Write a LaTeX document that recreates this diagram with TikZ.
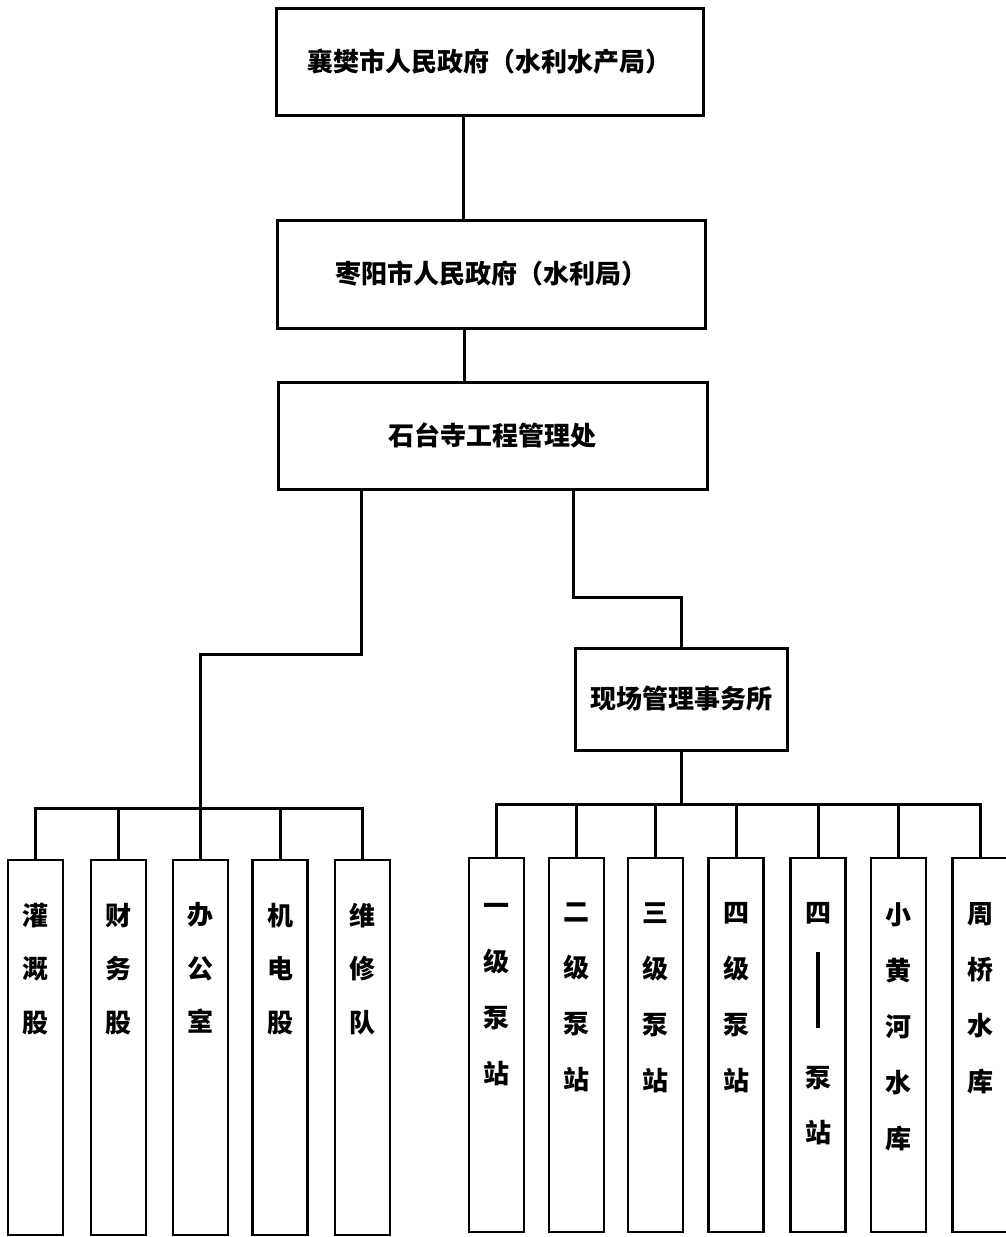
\documentclass[tikz,border=0pt]{standalone}
\usepackage{fontspec}
\newfontfamily\cjk{Noto Sans CJK SC}
\begin{document}
\begin{tikzpicture}[x=1pt,y=-1pt,
  box/.style={draw, line width=3pt, inner sep=0pt,
    font=\cjk\bfseries\fontsize{26pt}{30pt}\selectfont},
  vbox/.style={draw, line width=2.8pt, inner sep=0pt, minimum width=55pt},
  vtext/.style={anchor=north, inner sep=0pt, align=center,
    font=\cjk\bfseries\fontsize{26pt}{#1}\selectfont},
  vtext/.default={53.5pt},
  conn/.style={line width=3pt}]
\useasboundingbox (0,0) rectangle (1005,1237);

% upper hierarchy
\node[box, minimum width=427pt, minimum height=107pt] (gov1) at (489.5,61.5) {襄樊市人民政府（水利水产局）};
\node[box, minimum width=428pt, minimum height=108pt] (gov2) at (491,274) {枣阳市人民政府（水利局）};
\node[box, minimum width=429pt, minimum height=107pt] (mgmt) at (492.5,435.5) {石台寺工程管理处};
\node[box, minimum width=212pt, minimum height=102pt] (site) at (681,699) {现场管理事务所};

% left group boxes
\node[vbox, minimum height=375pt] (l1) at (35.5,1047.5) {};
\node[vbox, minimum height=375pt] (l2) at (118.5,1047.5) {};
\node[vbox, minimum height=375pt] (l3) at (200.5,1047.5) {};
\node[vbox, minimum height=375pt] (l4) at (280,1047.5) {};
\node[vbox, minimum height=375pt] (l5) at (362.5,1047.5) {};
\node[vtext] (l1t) at ([yshift=-44pt]l1.north) {灌\\溉\\股};
\node[vtext] (l2t) at ([yshift=-44pt]l2.north) {财\\务\\股};
\node[vtext] (l3t) at ([yshift=-44pt]l3.north) {办\\公\\室};
\node[vtext] (l4t) at ([yshift=-44pt]l4.north) {机\\电\\股};
\node[vtext] (l5t) at ([yshift=-44pt]l5.north) {维\\修\\队};

% right group boxes
\node[vbox, minimum height=374pt] (r1) at (496.5,1045) {};
\node[vbox, minimum height=374pt] (r2) at (576.5,1045) {};
\node[vbox, minimum height=374pt] (r3) at (655.5,1045) {};
\node[vbox, minimum height=374pt] (r4) at (736,1045) {};
\node[vbox, minimum height=374pt] (r5) at (818,1045) {};
\node[vbox, minimum height=374pt] (r6) at (898.5,1045) {};
\node[vbox, minimum height=374pt] (r7) at (980,1045) {};
\node[vtext=56pt] (r1t) at ([yshift=-46pt]r1.north) {一\\级\\泵\\站};
\node[vtext=56pt] (r2t) at ([yshift=-46pt]r2.north) {二\\级\\泵\\站};
\node[vtext=56pt] (r3t) at ([yshift=-46pt]r3.north) {三\\级\\泵\\站};
\node[vtext=56pt] (r4t) at ([yshift=-46pt]r4.north) {四\\级\\泵\\站};
\node[vtext=55pt] (r5t) at ([yshift=-46pt]r5.north) {四\\\rule[-50pt]{3.5pt}{76pt}\\\mbox{}\\泵\\站};
\node[vtext=56pt] (r6t) at ([yshift=-46pt]r6.north) {小\\黄\\河\\水\\库};
\node[vtext=56pt] (r7t) at ([yshift=-46pt]r7.north) {周\\桥\\水\\库};

% junction coordinates
\coordinate (lbend) at (200.5,654);
\coordinate (lbus) at (200.5,808);
\coordinate (rbend) at (681,597);
\coordinate (rbus) at (681,804);

% connectors
\draw[conn] ([xshift=-26.5pt]gov1.south) -- ([xshift=-28pt]gov2.north);
\draw[conn] ([xshift=-27pt]gov2.south) -- ([xshift=-28.5pt]mgmt.north);
\draw[conn] ([xshift=-131.5pt]mgmt.south) |- (lbend) -- (lbus);
\draw[conn] ([xshift=80.5pt]mgmt.south) |- (rbend) -- (site.north);
\draw[conn] (site.south) -- (rbus);

\draw[conn] (l1.north) |- (lbus) -| (l5.north);
\foreach \b in {l2,l3,l4} \draw[conn] (\b.north) -- (\b.north |- lbus);

\draw[conn] (r1.north) |- (rbus) -| (r7.north);
\foreach \b in {r2,r3,r4,r5,r6} \draw[conn] (\b.north) -- (\b.north |- rbus);
\end{tikzpicture}
\end{document}
